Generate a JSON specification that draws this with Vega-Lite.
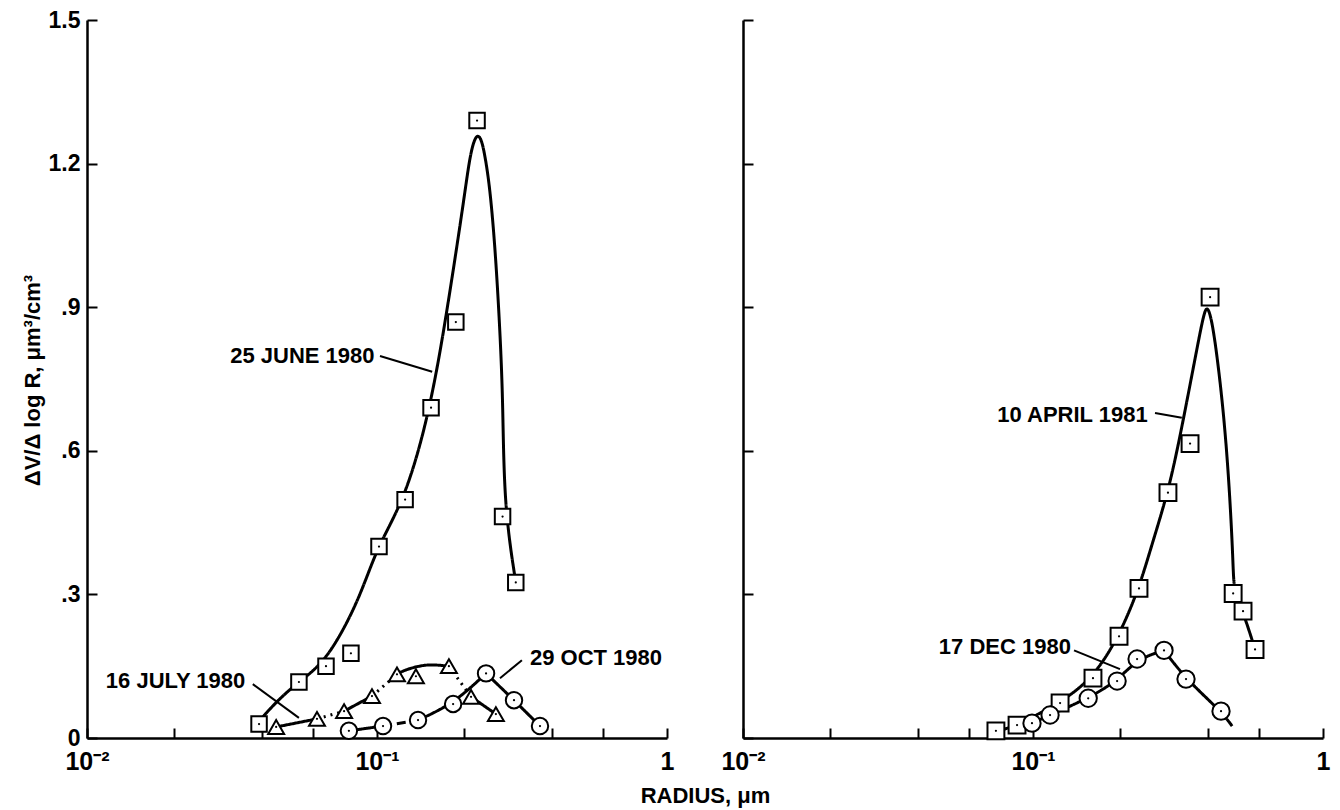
{
  "$schema": "https://vega.github.io/schema/vega-lite/v6.json",
  "background": "white",
  "padding": {"left": 21, "top": 9, "right": 5, "bottom": 3},
  "spacing": 76,
  "bounds": "flush",
  "datasets": {
    "points": [
      {"panel": "L", "series": "25 JUNE 1980", "r": 0.0392, "v": 0.029},
      {"panel": "L", "series": "25 JUNE 1980", "r": 0.0538, "v": 0.117},
      {"panel": "L", "series": "25 JUNE 1980", "r": 0.0667, "v": 0.15},
      {"panel": "L", "series": "25 JUNE 1980", "r": 0.0813, "v": 0.177},
      {"panel": "L", "series": "25 JUNE 1980", "r": 0.1016, "v": 0.40},
      {"panel": "L", "series": "25 JUNE 1980", "r": 0.125, "v": 0.498},
      {"panel": "L", "series": "25 JUNE 1980", "r": 0.1536, "v": 0.69},
      {"panel": "L", "series": "25 JUNE 1980", "r": 0.187, "v": 0.869},
      {"panel": "L", "series": "25 JUNE 1980", "r": 0.2213, "v": 1.29},
      {"panel": "L", "series": "25 JUNE 1980", "r": 0.271, "v": 0.4625},
      {"panel": "L", "series": "25 JUNE 1980", "r": 0.301, "v": 0.325},
      {"panel": "L", "series": "16 JULY 1980", "r": 0.0449, "v": 0.023},
      {"panel": "L", "series": "16 JULY 1980", "r": 0.0621, "v": 0.04},
      {"panel": "L", "series": "16 JULY 1980", "r": 0.077, "v": 0.056},
      {"panel": "L", "series": "16 JULY 1980", "r": 0.0961, "v": 0.0875},
      {"panel": "L", "series": "16 JULY 1980", "r": 0.1172, "v": 0.133},
      {"panel": "L", "series": "16 JULY 1980", "r": 0.1362, "v": 0.129},
      {"panel": "L", "series": "16 JULY 1980", "r": 0.177, "v": 0.15},
      {"panel": "L", "series": "16 JULY 1980", "r": 0.211, "v": 0.086},
      {"panel": "L", "series": "16 JULY 1980", "r": 0.257, "v": 0.05},
      {"panel": "L", "series": "29 OCT 1980", "r": 0.08, "v": 0.015},
      {"panel": "L", "series": "29 OCT 1980", "r": 0.1049, "v": 0.025},
      {"panel": "L", "series": "29 OCT 1980", "r": 0.1385, "v": 0.0375},
      {"panel": "L", "series": "29 OCT 1980", "r": 0.183, "v": 0.071},
      {"panel": "L", "series": "29 OCT 1980", "r": 0.2377, "v": 0.135},
      {"panel": "L", "series": "29 OCT 1980", "r": 0.2968, "v": 0.079},
      {"panel": "L", "series": "29 OCT 1980", "r": 0.3648, "v": 0.025},
      {"panel": "R", "series": "10 APRIL 1981", "r": 0.0745, "v": 0.015},
      {"panel": "R", "series": "10 APRIL 1981", "r": 0.0881, "v": 0.027},
      {"panel": "R", "series": "10 APRIL 1981", "r": 0.124, "v": 0.073},
      {"panel": "R", "series": "10 APRIL 1981", "r": 0.161, "v": 0.125},
      {"panel": "R", "series": "10 APRIL 1981", "r": 0.198, "v": 0.2125},
      {"panel": "R", "series": "10 APRIL 1981", "r": 0.232, "v": 0.3125},
      {"panel": "R", "series": "10 APRIL 1981", "r": 0.292, "v": 0.5125},
      {"panel": "R", "series": "10 APRIL 1981", "r": 0.348, "v": 0.615},
      {"panel": "R", "series": "10 APRIL 1981", "r": 0.408, "v": 0.921},
      {"panel": "R", "series": "10 APRIL 1981", "r": 0.49, "v": 0.302},
      {"panel": "R", "series": "10 APRIL 1981", "r": 0.53, "v": 0.265},
      {"panel": "R", "series": "10 APRIL 1981", "r": 0.583, "v": 0.185},
      {"panel": "R", "series": "17 DEC 1980", "r": 0.0992, "v": 0.031},
      {"panel": "R", "series": "17 DEC 1980", "r": 0.1145, "v": 0.048},
      {"panel": "R", "series": "17 DEC 1980", "r": 0.155, "v": 0.083},
      {"panel": "R", "series": "17 DEC 1980", "r": 0.195, "v": 0.119},
      {"panel": "R", "series": "17 DEC 1980", "r": 0.2285, "v": 0.165},
      {"panel": "R", "series": "17 DEC 1980", "r": 0.283, "v": 0.183},
      {"panel": "R", "series": "17 DEC 1980", "r": 0.337, "v": 0.123},
      {"panel": "R", "series": "17 DEC 1980", "r": 0.445, "v": 0.056}
    ],
    "curves": [
      {"panel": "L", "seg": "J25", "dash": "solid", "r": 0.0401, "v": 0.042},
      {"panel": "L", "seg": "J25", "dash": "solid", "r": 0.0452, "v": 0.077},
      {"panel": "L", "seg": "J25", "dash": "solid", "r": 0.053, "v": 0.115},
      {"panel": "L", "seg": "J25", "dash": "solid", "r": 0.0672, "v": 0.16},
      {"panel": "L", "seg": "J25", "dash": "solid", "r": 0.0874, "v": 0.292},
      {"panel": "L", "seg": "J25", "dash": "solid", "r": 0.1, "v": 0.4},
      {"panel": "L", "seg": "J25", "dash": "solid", "r": 0.125, "v": 0.498},
      {"panel": "L", "seg": "J25", "dash": "solid", "r": 0.1536, "v": 0.692},
      {"panel": "L", "seg": "J25", "dash": "solid", "r": 0.177, "v": 0.917},
      {"panel": "L", "seg": "J25", "dash": "solid", "r": 0.1995, "v": 1.125},
      {"panel": "L", "seg": "J25", "dash": "solid", "r": 0.2094, "v": 1.22},
      {"panel": "L", "seg": "J25", "dash": "solid", "r": 0.2195, "v": 1.262},
      {"panel": "L", "seg": "J25", "dash": "solid", "r": 0.2285, "v": 1.255},
      {"panel": "L", "seg": "J25", "dash": "solid", "r": 0.236, "v": 1.215},
      {"panel": "L", "seg": "J25", "dash": "solid", "r": 0.245, "v": 1.15},
      {"panel": "L", "seg": "J25", "dash": "solid", "r": 0.255, "v": 1.03},
      {"panel": "L", "seg": "J25", "dash": "solid", "r": 0.264, "v": 0.88},
      {"panel": "L", "seg": "J25", "dash": "solid", "r": 0.272, "v": 0.708},
      {"panel": "L", "seg": "J25", "dash": "solid", "r": 0.274, "v": 0.485},
      {"panel": "L", "seg": "J25", "dash": "solid", "r": 0.301, "v": 0.325},
      {"panel": "L", "seg": "JA", "dash": "solid", "r": 0.0449, "v": 0.023},
      {"panel": "L", "seg": "JA", "dash": "solid", "r": 0.0621, "v": 0.04},
      {"panel": "L", "seg": "JB", "dash": "dotted", "r": 0.0621, "v": 0.04},
      {"panel": "L", "seg": "JB", "dash": "dotted", "r": 0.077, "v": 0.056},
      {"panel": "L", "seg": "JC", "dash": "solid", "r": 0.077, "v": 0.056},
      {"panel": "L", "seg": "JC", "dash": "solid", "r": 0.0961, "v": 0.0875},
      {"panel": "L", "seg": "JD", "dash": "dotted", "r": 0.0961, "v": 0.0875},
      {"panel": "L", "seg": "JD", "dash": "dotted", "r": 0.1172, "v": 0.133},
      {"panel": "L", "seg": "JE", "dash": "solid", "r": 0.1172, "v": 0.133},
      {"panel": "L", "seg": "JE", "dash": "solid", "r": 0.124, "v": 0.142},
      {"panel": "L", "seg": "JE", "dash": "solid", "r": 0.1464, "v": 0.154},
      {"panel": "L", "seg": "JE", "dash": "solid", "r": 0.165, "v": 0.152},
      {"panel": "L", "seg": "JE", "dash": "solid", "r": 0.177, "v": 0.15},
      {"panel": "L", "seg": "JF", "dash": "dotted", "r": 0.177, "v": 0.15},
      {"panel": "L", "seg": "JF", "dash": "dotted", "r": 0.211, "v": 0.086},
      {"panel": "L", "seg": "JG", "dash": "solid", "r": 0.211, "v": 0.086},
      {"panel": "L", "seg": "JG", "dash": "solid", "r": 0.257, "v": 0.05},
      {"panel": "L", "seg": "OA", "dash": "solid", "r": 0.08, "v": 0.015},
      {"panel": "L", "seg": "OA", "dash": "solid", "r": 0.1049, "v": 0.025},
      {"panel": "L", "seg": "OB", "dash": "dashed", "r": 0.1049, "v": 0.025},
      {"panel": "L", "seg": "OB", "dash": "dashed", "r": 0.1385, "v": 0.0375},
      {"panel": "L", "seg": "OC", "dash": "solid", "r": 0.1385, "v": 0.0375},
      {"panel": "L", "seg": "OC", "dash": "solid", "r": 0.183, "v": 0.071},
      {"panel": "L", "seg": "OC", "dash": "solid", "r": 0.2377, "v": 0.135},
      {"panel": "L", "seg": "OD", "dash": "solid", "r": 0.2377, "v": 0.135},
      {"panel": "L", "seg": "OD", "dash": "solid", "r": 0.2968, "v": 0.079},
      {"panel": "L", "seg": "OD", "dash": "solid", "r": 0.3648, "v": 0.025},
      {"panel": "R", "seg": "A10", "dash": "solid", "r": 0.0745, "v": 0.0125},
      {"panel": "R", "seg": "A10", "dash": "solid", "r": 0.0881, "v": 0.027},
      {"panel": "R", "seg": "A10", "dash": "solid", "r": 0.124, "v": 0.073},
      {"panel": "R", "seg": "A10", "dash": "solid", "r": 0.161, "v": 0.125},
      {"panel": "R", "seg": "A10", "dash": "solid", "r": 0.198, "v": 0.2125},
      {"panel": "R", "seg": "A10", "dash": "solid", "r": 0.232, "v": 0.3125},
      {"panel": "R", "seg": "A10", "dash": "solid", "r": 0.257, "v": 0.404},
      {"panel": "R", "seg": "A10", "dash": "solid", "r": 0.292, "v": 0.5125},
      {"panel": "R", "seg": "A10", "dash": "solid", "r": 0.321, "v": 0.627},
      {"panel": "R", "seg": "A10", "dash": "solid", "r": 0.368, "v": 0.815},
      {"panel": "R", "seg": "A10", "dash": "solid", "r": 0.389, "v": 0.89},
      {"panel": "R", "seg": "A10", "dash": "solid", "r": 0.401, "v": 0.905},
      {"panel": "R", "seg": "A10", "dash": "solid", "r": 0.421, "v": 0.852},
      {"panel": "R", "seg": "A10", "dash": "solid", "r": 0.456, "v": 0.675},
      {"panel": "R", "seg": "A10", "dash": "solid", "r": 0.478, "v": 0.502},
      {"panel": "R", "seg": "A10", "dash": "solid", "r": 0.49, "v": 0.3625},
      {"panel": "R", "seg": "A10", "dash": "solid", "r": 0.493, "v": 0.302},
      {"panel": "R", "seg": "A10", "dash": "solid", "r": 0.53, "v": 0.265},
      {"panel": "R", "seg": "A10", "dash": "solid", "r": 0.583, "v": 0.185},
      {"panel": "R", "seg": "D17", "dash": "solid", "r": 0.0992, "v": 0.031},
      {"panel": "R", "seg": "D17", "dash": "solid", "r": 0.1145, "v": 0.048},
      {"panel": "R", "seg": "D17", "dash": "solid", "r": 0.155, "v": 0.083},
      {"panel": "R", "seg": "D17", "dash": "solid", "r": 0.195, "v": 0.119},
      {"panel": "R", "seg": "D17", "dash": "solid", "r": 0.2285, "v": 0.165},
      {"panel": "R", "seg": "D17", "dash": "solid", "r": 0.283, "v": 0.183},
      {"panel": "R", "seg": "D18", "dash": "solid", "r": 0.283, "v": 0.183},
      {"panel": "R", "seg": "D18", "dash": "solid", "r": 0.337, "v": 0.123},
      {"panel": "R", "seg": "D18", "dash": "solid", "r": 0.445, "v": 0.056},
      {"panel": "R", "seg": "D18", "dash": "solid", "r": 0.486, "v": 0.025}
    ],
    "labels": [
      {"panel": "L", "label": "25 JUNE 1980", "r": 0.0553, "v": 0.798},
      {"panel": "L", "label": "16 JULY 1980", "r": 0.0202, "v": 0.119},
      {"panel": "L", "label": "29 OCT 1980", "r": 0.569, "v": 0.167},
      {"panel": "R", "label": "10 APRIL 1981", "r": 0.1368, "v": 0.675},
      {"panel": "R", "label": "17 DEC 1980", "r": 0.08, "v": 0.19}
    ],
    "leaders": [
      {"panel": "L", "r": 0.1024, "v": 0.798, "r2": 0.155, "v2": 0.765},
      {"panel": "L", "r": 0.0373, "v": 0.1125, "r2": 0.0538, "v2": 0.042},
      {"panel": "L", "r": 0.316, "v": 0.1625, "r2": 0.2655, "v2": 0.125},
      {"panel": "R", "r": 0.2635, "v": 0.679, "r2": 0.326, "v2": 0.669},
      {"panel": "R", "r": 0.1385, "v": 0.183, "r2": 0.1995, "v2": 0.144}
    ]
  },
  "hconcat": [
    {
      "width": 580,
      "height": 718,
      "layer": [
        {
          "data": {"name": "curves"},
          "transform": [{"filter": "datum.panel == 'L'"}],
          "mark": {"type": "line", "interpolate": "basis", "strokeWidth": 3, "color": "black"},
          "encoding": {
            "x": {"field": "r", "type": "quantitative", "scale": {"type": "log", "domain": [0.01, 1], "nice": false},
              "axis": {"values": [0.01, 0.02, 0.04, 0.06, 0.1, 0.2, 0.4, 0.6, 1],
                "labelExpr": "datum.value == 0.01 ? '10⁻²' : datum.value == 0.1 ? '10⁻¹' : datum.value == 1 ? '1' : ''",
                "labelPadding": 21, "labelDx": 4, "labelFontSize": 25, "title": "RADIUS, μm", "titleX": 618, "titleY": 57, "titleAlign": "center", "titleBaseline": "middle"}},
            "y": {"field": "v", "type": "quantitative", "scale": {"domain": [0, 1.5], "nice": false, "zero": false},
              "axis": {"values": [0, 0.3, 0.6, 0.9, 1.2, 1.5],
                "labelExpr": "datum.value == 0 ? '0' : datum.value < 1 ? slice(format(datum.value, '.1f'), 1) : format(datum.value, '.1f')",
                "labelPadding": 17, "title": "ΔV/Δ log R, μm³/cm³", "titleX": -55, "titleY": 360, "titleAngle": -90, "titleAlign": "center", "titleBaseline": "middle"}},
            "detail": {"field": "seg"},
            "strokeDash": {"field": "dash", "type": "nominal", "scale": {"domain": ["solid", "dotted", "dashed"], "range": [[1, 0], [2, 5], [9, 5]]}, "legend": null}
          }
        },
        {
          "data": {"name": "points"},
          "transform": [{"filter": "datum.panel == 'L'"}],
          "mark": {"type": "point", "filled": false, "fill": "white", "fillOpacity": 1, "stroke": "black", "strokeWidth": 2, "opacity": 1},
          "encoding": {
            "x": {"field": "r", "type": "quantitative"},
            "y": {"field": "v", "type": "quantitative"},
            "shape": {"field": "series", "type": "nominal", "scale": {"domain": ["25 JUNE 1980", "16 JULY 1980", "29 OCT 1980", "10 APRIL 1981", "17 DEC 1980"], "range": ["square", "triangle-up", "circle", "square", "circle"]}, "legend": null},
            "size": {"field": "series", "type": "nominal", "scale": {"domain": ["25 JUNE 1980", "16 JULY 1980", "29 OCT 1980", "10 APRIL 1981", "17 DEC 1980"], "range": [240, 300, 260, 240, 260]}, "legend": null}
          }
        },
        {
          "data": {"name": "points"},
          "transform": [{"filter": "datum.panel == 'L'"}],
          "mark": {"type": "point", "filled": true, "shape": "circle", "size": 5, "color": "black", "opacity": 1},
          "encoding": {
            "x": {"field": "r", "type": "quantitative"},
            "y": {"field": "v", "type": "quantitative"}
          }
        },
        {
          "data": {"name": "leaders"},
          "transform": [{"filter": "datum.panel == 'L'"}],
          "mark": {"type": "rule", "strokeWidth": 2, "color": "black"},
          "encoding": {
            "x": {"field": "r", "type": "quantitative"},
            "y": {"field": "v", "type": "quantitative"},
            "x2": {"field": "r2"},
            "y2": {"field": "v2"}
          }
        },
        {
          "data": {"name": "labels"},
          "transform": [{"filter": "datum.panel == 'L'"}],
          "mark": {"type": "text", "align": "center", "baseline": "middle"},
          "encoding": {
            "x": {"field": "r", "type": "quantitative"},
            "y": {"field": "v", "type": "quantitative"},
            "text": {"field": "label"}
          }
        }
      ]
    },
    {
      "width": 580,
      "height": 718,
      "layer": [
        {
          "data": {"name": "curves"},
          "transform": [{"filter": "datum.panel == 'R'"}],
          "mark": {"type": "line", "interpolate": "basis", "strokeWidth": 3, "color": "black"},
          "encoding": {
            "x": {"field": "r", "type": "quantitative", "scale": {"type": "log", "domain": [0.01, 1], "nice": false},
              "axis": {"values": [0.01, 0.02, 0.04, 0.06, 0.1, 0.2, 0.4, 0.6, 1],
                "labelExpr": "datum.value == 0.01 ? '10⁻²' : datum.value == 0.1 ? '10⁻¹' : datum.value == 1 ? '1' : ''",
                "labelPadding": 21, "labelDx": 4, "labelFontSize": 25, "title": null}},
            "y": {"field": "v", "type": "quantitative", "scale": {"domain": [0, 1.5], "nice": false, "zero": false},
              "axis": {"values": [0, 0.3, 0.6, 0.9, 1.2, 1.5], "labels": false, "title": null}},
            "detail": {"field": "seg"},
            "strokeDash": {"field": "dash", "type": "nominal", "scale": {"domain": ["solid", "dotted", "dashed"], "range": [[1, 0], [2, 5], [9, 5]]}, "legend": null}
          }
        },
        {
          "data": {"name": "points"},
          "transform": [{"filter": "datum.panel == 'R'"}],
          "mark": {"type": "point", "filled": false, "fill": "white", "fillOpacity": 1, "stroke": "black", "strokeWidth": 2, "opacity": 1},
          "encoding": {
            "x": {"field": "r", "type": "quantitative"},
            "y": {"field": "v", "type": "quantitative"},
            "shape": {"field": "series", "type": "nominal", "scale": {"domain": ["25 JUNE 1980", "16 JULY 1980", "29 OCT 1980", "10 APRIL 1981", "17 DEC 1980"], "range": ["square", "triangle-up", "circle", "square", "circle"]}, "legend": null},
            "size": {"field": "series", "type": "nominal", "scale": {"domain": ["25 JUNE 1980", "16 JULY 1980", "29 OCT 1980", "10 APRIL 1981", "17 DEC 1980"], "range": [240, 300, 260, 240, 260]}, "legend": null}
          }
        },
        {
          "data": {"name": "points"},
          "transform": [{"filter": "datum.panel == 'R'"}],
          "mark": {"type": "point", "filled": true, "shape": "circle", "size": 5, "color": "black", "opacity": 1},
          "encoding": {
            "x": {"field": "r", "type": "quantitative"},
            "y": {"field": "v", "type": "quantitative"}
          }
        },
        {
          "data": {"name": "leaders"},
          "transform": [{"filter": "datum.panel == 'R'"}],
          "mark": {"type": "rule", "strokeWidth": 2, "color": "black"},
          "encoding": {
            "x": {"field": "r", "type": "quantitative"},
            "y": {"field": "v", "type": "quantitative"},
            "x2": {"field": "r2"},
            "y2": {"field": "v2"}
          }
        },
        {
          "data": {"name": "labels"},
          "transform": [{"filter": "datum.panel == 'R'"}],
          "mark": {"type": "text", "align": "center", "baseline": "middle"},
          "encoding": {
            "x": {"field": "r", "type": "quantitative"},
            "y": {"field": "v", "type": "quantitative"},
            "text": {"field": "label"}
          }
        }
      ]
    }
  ],
  "config": {
    "view": {"stroke": null},
    "font": "Liberation Sans",
    "axis": {
      "grid": false,
      "domainColor": "black",
      "domainWidth": 2.5,
      "tickColor": "black",
      "tickWidth": 2,
      "tickSize": -10,
      "labelColor": "black",
      "labelFont": "Liberation Sans",
      "labelFontWeight": "bold",
      "labelFontSize": 23,
      "labelFlush": false,
      "labelOverlap": false,
      "titleColor": "black",
      "titleFont": "Liberation Sans",
      "titleFontWeight": "bold",
      "titleFontSize": 22
    },
    "text": {"font": "Liberation Sans", "fontWeight": "bold", "fontSize": 22, "color": "black"}
  }
}
